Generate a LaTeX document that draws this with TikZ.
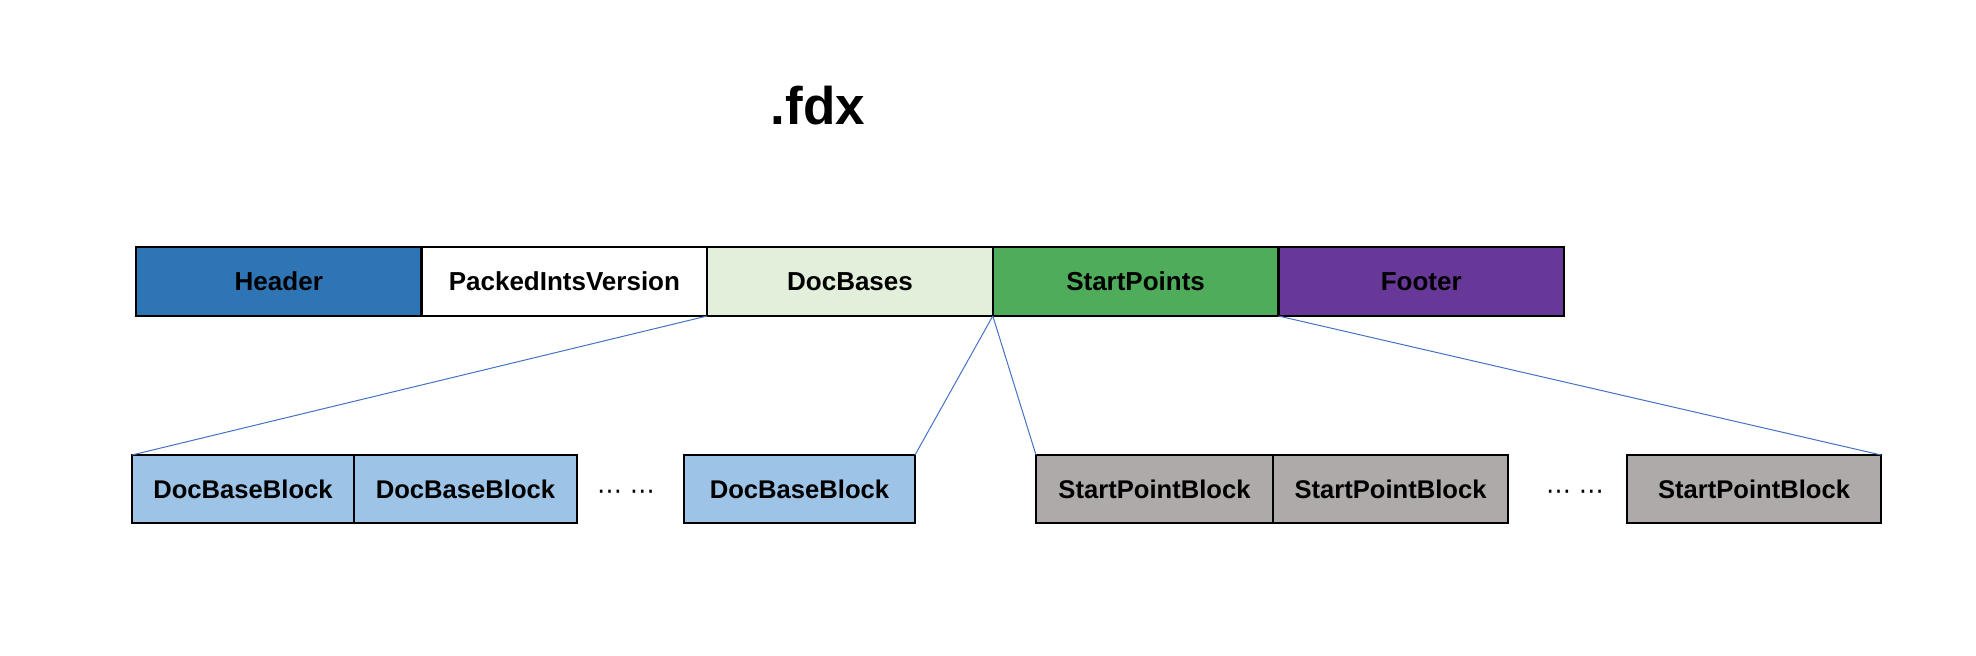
\documentclass[tikz,border=0pt]{standalone}
\usepackage{fontspec}
\setmainfont{Liberation Sans}
\newfontfamily\dotsfont{DejaVu Sans}
\usepackage{xcolor}
\usetikzlibrary{positioning}

\definecolor{hdrblue}{RGB}{46,117,182}
\definecolor{dbgreen}{RGB}{226,239,218}
\definecolor{spgreen}{RGB}{78,172,91}
\definecolor{ftpurple}{RGB}{103,56,152}
\definecolor{blkblue}{RGB}{157,195,230}
\definecolor{blkgray}{RGB}{174,170,170}
\definecolor{linkblue}{RGB}{68,114,196}

\tikzset{
	field/.style={draw=black, line width=1.2pt, minimum width=142.8pt, minimum height=34.5pt,
		inner sep=0pt, outer sep=0pt, font=\fontsize{13}{15}\selectfont\bfseries},
	block/.style={draw=black, line width=1.1pt, minimum height=34pt,
		inner sep=0pt, outer sep=0pt, font=\fontsize{12.8}{15}\selectfont\bfseries},
	gap/.style={font=\fontsize{12.5}{15}\dotsfont},
	link/.style={draw=linkblue, line width=0.5pt}
}

\begin{document}
\begin{tikzpicture}

	\useasboundingbox (0,0) rectangle (988pt,328pt);

	% title
	\node[font=\fontsize{26.5}{30}\selectfont\bfseries, anchor=base] (title) at (409pt,265.5pt) {.fdx};

	% file layout
	\node[field, fill=hdrblue, anchor=west] (header) at (68pt,187.25pt) {Header};
	\node[field, fill=white, right=0pt of header] (packed) {PackedIntsVersion};
	\node[field, fill=dbgreen, right=0pt of packed] (docbases) {DocBases};
	\node[field, fill=spgreen, right=0pt of docbases] (startpoints) {StartPoints};
	\node[field, fill=ftpurple, right=0pt of startpoints] (footer) {Footer};

	% doc base blocks
	\node[block, fill=blkblue, minimum width=111pt, anchor=west] (dbblk1) at (66pt,83.5pt) {DocBaseBlock};
	\node[block, fill=blkblue, minimum width=111.5pt, right=0pt of dbblk1] (dbblk2) {DocBaseBlock};
	\node[block, fill=blkblue, minimum width=115.5pt, anchor=west] (dbblkn) at (342pt,83.5pt) {DocBaseBlock};
	\node[gap] (dbdots) at (313pt,80.5pt) {⋯ ⋯};

	% start point blocks
	\node[block, fill=blkgray, minimum width=118.5pt, anchor=west] (spblk1) at (518pt,83.5pt) {StartPointBlock};
	\node[block, fill=blkgray, minimum width=117.5pt, right=0pt of spblk1] (spblk2) {StartPointBlock};
	\node[block, fill=blkgray, minimum width=127pt, anchor=west] (spblkn) at (813.5pt,83.5pt) {StartPointBlock};
	\node[gap] (spdots) at (787.5pt,80.5pt) {⋯ ⋯};

	% links
	\draw[link] (docbases.south west) -- (dbblk1.north west);
	\draw[link] (docbases.south east) -- (dbblkn.north east);
	\draw[link] (startpoints.south west) -- (spblk1.north west);
	\draw[link] (startpoints.south east) -- (spblkn.north east);

\end{tikzpicture}
\end{document}
